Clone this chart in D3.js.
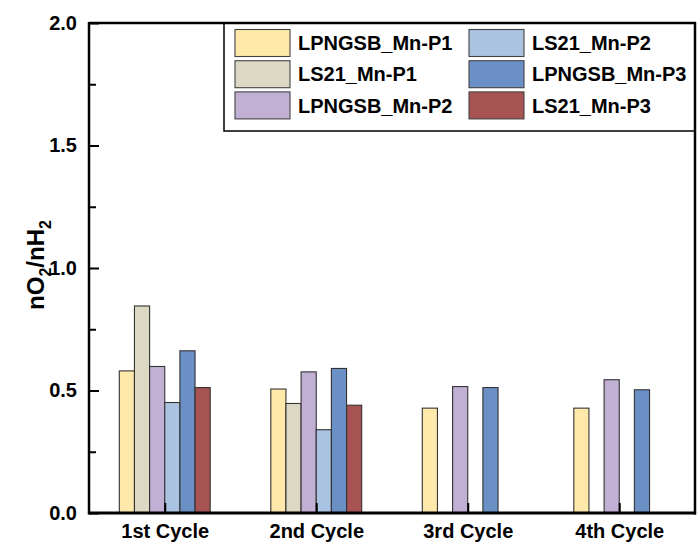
<!DOCTYPE html>
<html>
<head>
<meta charset="utf-8">
<script src="https://cdn.jsdelivr.net/npm/d3@7"></script>
<style>
  html, body { margin: 0; padding: 0; background: #fff; }
  svg { display: block; font-family: Arial, "Liberation Sans", sans-serif; }
</style>
</head>
<body>
<svg id="chart" width="697" height="544"></svg>
<script>
// Cycle categories along the x axis
const cycles = ["1st Cycle", "2nd Cycle", "3rd Cycle", "4th Cycle"];

// Series names (legend order, column by column)
const seriesNames = ["LPNGSB_Mn-P1", "LS21_Mn-P1", "LPNGSB_Mn-P2", "LS21_Mn-P2", "LPNGSB_Mn-P3", "LS21_Mn-P3"];
const seriesColors = ["#FFE9AA", "#DCD8C3", "#C1B0D4", "#A9C3E1", "#6A90C5", "#A75352"];

// nO2/nH2 ratio per cycle (null = not measured)
const lpngsbP1 = [0.580, 0.506, 0.428, 0.428];
const ls21P1   = [0.845, 0.447, null, null];
const lpngsbP2 = [0.598, 0.576, 0.516, 0.544];
const ls21P2   = [0.451, 0.340, null, null];
const lpngsbP3 = [0.662, 0.590, 0.512, 0.503];
const ls21P3   = [0.512, 0.440, null, null];
const seriesValues = [lpngsbP1, ls21P1, lpngsbP2, ls21P2, lpngsbP3, ls21P3];

const yMajorTicks = [0, 0.5, 1.0, 1.5, 2.0];
const yMinorTicks = [0.25, 0.75, 1.25, 1.75];

const svg = d3.select("#chart");
const plotLeft = 89, plotRight = 695, plotTop = 23, plotBottom = 513;

const x = d3.scaleLinear().domain([0.5, cycles.length + 0.5]).range([plotLeft, plotRight]);
const y = d3.scaleLinear().domain([0, 2]).range([plotBottom, plotTop]);
const barW = 0.1; // bar width in category units

// Bars
const barData = [];
seriesValues.forEach((vals, j) => {
  vals.forEach((v, i) => {
    if (v != null) barData.push({ i, j, v });
  });
});

const barLeft = d => d.i + 1 - 3 * barW + d.j * barW;
svg.append("g").selectAll("rect").data(barData).join("rect")
  .attr("x", d => x(barLeft(d)))
  .attr("width", d => x(barLeft(d) + barW) - x(barLeft(d)))
  .attr("y", d => y(d.v))
  .attr("height", d => y(0) - y(d.v))
  .attr("fill", d => seriesColors[d.j])
  .attr("stroke", "#333")
  .attr("stroke-width", 1.1);

const fontFam = "Arial, 'Liberation Sans', sans-serif";

// Y axis: inward ticks, bold labels
const yAxis = d3.axisLeft(y).tickValues(yMajorTicks).tickFormat(d3.format(".1f"))
  .tickSizeInner(-10).tickSizeOuter(0).tickPadding(12);
const gy = svg.append("g").attr("transform", `translate(${plotLeft},0)`).call(yAxis);
gy.select(".domain").remove();
gy.selectAll(".tick line").attr("stroke", "#000").attr("stroke-width", 2);
gy.selectAll(".tick text").attr("font-size", 20).attr("font-weight", "bold").attr("fill", "#000")
  .attr("font-family", fontFam);

const yMinor = d3.axisLeft(y).tickValues(yMinorTicks).tickFormat("").tickSizeInner(-7).tickSizeOuter(0);
const gym = svg.append("g").attr("transform", `translate(${plotLeft},0)`).call(yMinor);
gym.select(".domain").remove();
gym.selectAll(".tick line").attr("stroke", "#000").attr("stroke-width", 2);

// X axis: inward ticks at group centers
const xAxis = d3.axisBottom(x).tickValues(cycles.map((c, i) => i + 1)).tickFormat(d => cycles[d - 1])
  .tickSizeInner(-10).tickSizeOuter(0).tickPadding(11);
const gx = svg.append("g").attr("transform", `translate(0,${plotBottom})`).call(xAxis);
gx.select(".domain").remove();
gx.selectAll(".tick line").attr("stroke", "#000").attr("stroke-width", 2);
gx.selectAll(".tick text").attr("font-size", 20).attr("font-weight", "bold").attr("fill", "#000")
  .attr("font-family", fontFam);

// Frame
svg.append("line").attr("x1", plotLeft).attr("x2", plotRight + 1).attr("y1", plotBottom).attr("y2", plotBottom)
  .attr("stroke", "#000").attr("stroke-width", 3);
svg.append("line").attr("x1", plotLeft).attr("x2", plotLeft).attr("y1", plotTop - 1).attr("y2", plotBottom + 1.5)
  .attr("stroke", "#000").attr("stroke-width", 2.5);
svg.append("line").attr("x1", plotLeft).attr("x2", plotRight + 1).attr("y1", plotTop).attr("y2", plotTop)
  .attr("stroke", "#000").attr("stroke-width", 2.5);
svg.append("line").attr("x1", plotRight).attr("x2", plotRight).attr("y1", plotTop - 1).attr("y2", plotBottom + 1.5)
  .attr("stroke", "#000").attr("stroke-width", 2.5);

// Legend
const legend = svg.append("g").attr("font-family", fontFam);
legend.append("rect").attr("x", 224).attr("y", plotTop).attr("width", plotRight - 224).attr("height", 108)
  .attr("fill", "none").attr("stroke", "#000").attr("stroke-width", 1.5);
seriesNames.forEach((name, k) => {
  const col = Math.floor(k / 3), row = k % 3;
  const sx = col === 0 ? 235 : 469;
  const sy = 29.5 + row * 31.2;
  legend.append("rect").attr("x", sx).attr("y", sy).attr("width", 55).attr("height", 27)
    .attr("fill", seriesColors[k]).attr("stroke", "#444").attr("stroke-width", 1.1);
  legend.append("text").attr("x", sx + 63).attr("y", sy + 13.5).attr("dy", "0.36em")
    .attr("font-size", 20).attr("font-weight", "bold").attr("fill", "#000").text(name);
});

// Y axis title with subscripts
const title = svg.append("text")
  .attr("transform", `translate(44,${(plotTop + plotBottom) / 2 - 3}) rotate(-90)`)
  .attr("text-anchor", "middle")
  .attr("font-family", fontFam)
  .attr("font-size", 24).attr("font-weight", "bold").attr("fill", "#000");
title.append("tspan").text("nO");
title.append("tspan").attr("font-size", 16).attr("dy", 7).text("2");
title.append("tspan").attr("dy", -7).text("/nH");
title.append("tspan").attr("font-size", 16).attr("dy", 7).text("2");
</script>
</body>
</html>
